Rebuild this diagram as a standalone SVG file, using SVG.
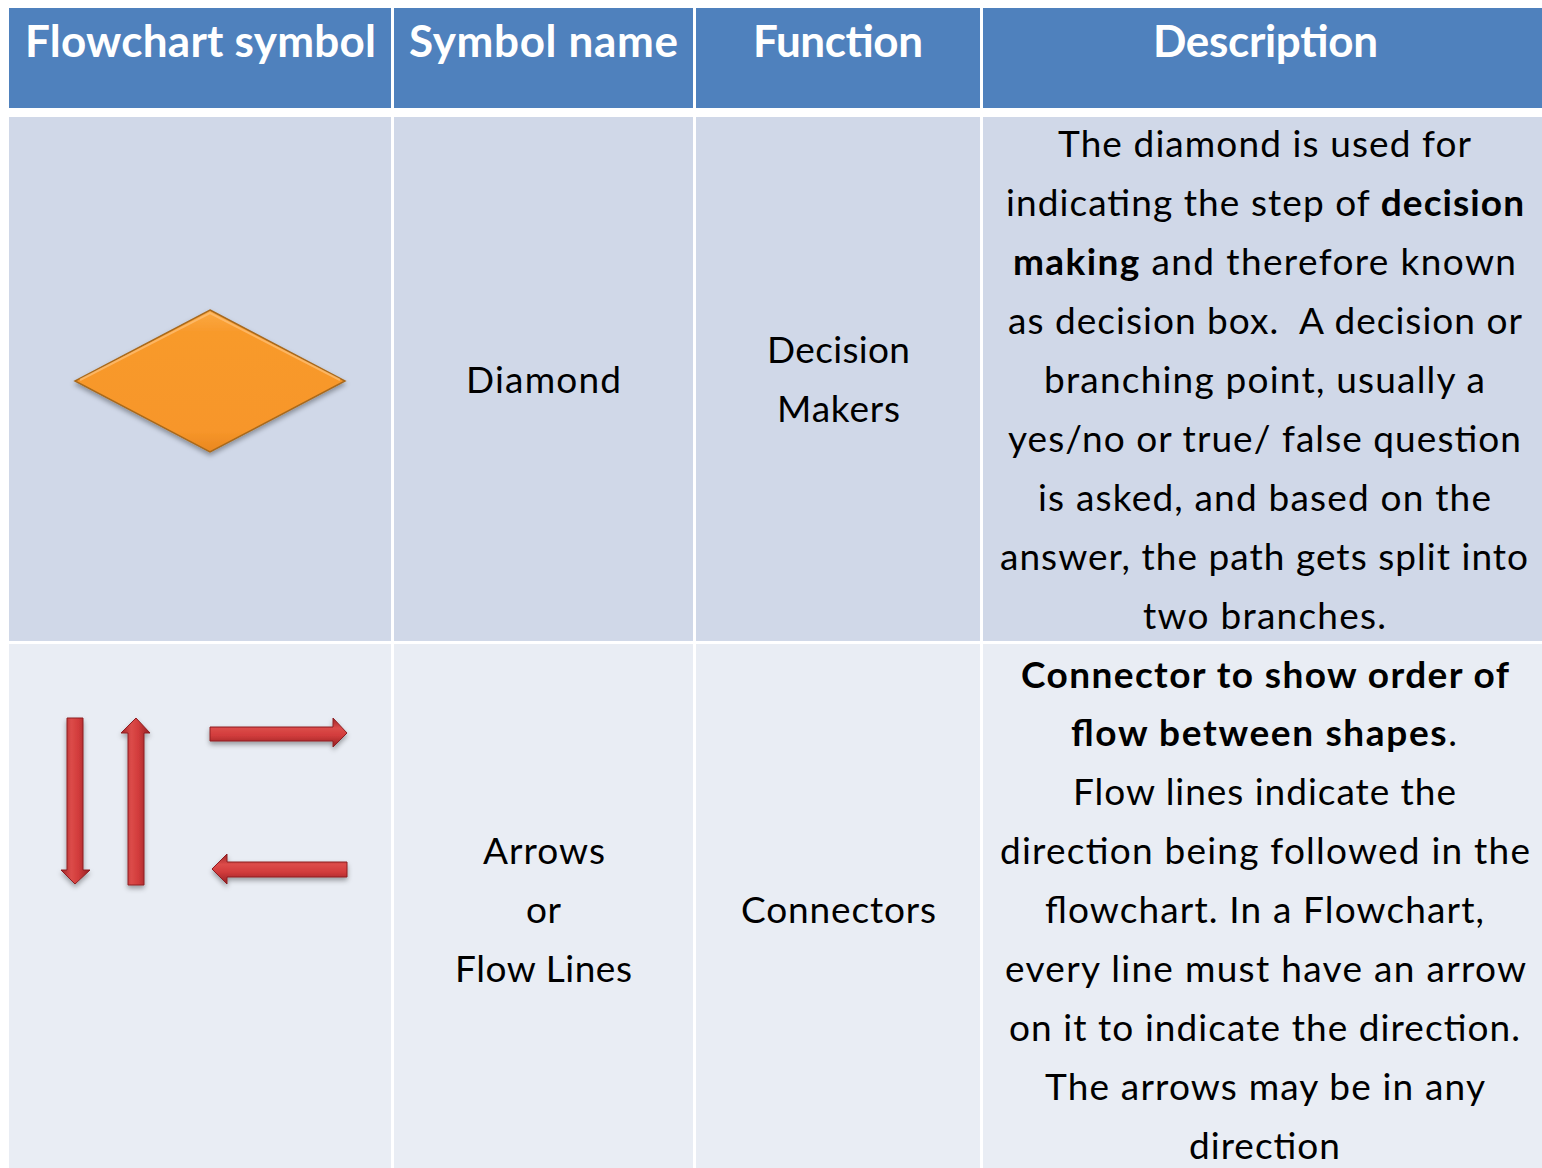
<svg xmlns="http://www.w3.org/2000/svg" width="1542" height="1168" viewBox="0 0 1542 1168">
  <style>
    .hdr { fill: #4F81BD; }
    .r1 { fill: #D0D8E8; }
    .r2 { fill: #E9EDF4; }
    .th { font-family: Lato, "Open Sans", "Liberation Sans", sans-serif; font-weight: 700; font-size: 44px; fill: #FFFFFF; }
    .td { font-family: Lato, "Open Sans", "Liberation Sans", sans-serif; font-weight: 400; font-size: 37px; fill: #000000; white-space: pre; }
    .b { font-weight: 700; }
  </style>
  <defs>
    <linearGradient id="diamondFill" x1="0" y1="0" x2="0" y2="1">
      <stop offset="0" stop-color="#FBAA45"/>
      <stop offset="0.15" stop-color="#F89A2C"/>
      <stop offset="0.85" stop-color="#F7962A"/>
      <stop offset="1" stop-color="#E9871F"/>
    </linearGradient>
    <linearGradient id="shaftV" x1="0" y1="0" x2="1" y2="0">
      <stop offset="0" stop-color="#9E2326"/>
      <stop offset="0.35" stop-color="#DC4B49"/>
      <stop offset="0.6" stop-color="#D23C3C"/>
      <stop offset="1" stop-color="#931F22"/>
    </linearGradient>
    <linearGradient id="shaftH" x1="0" y1="0" x2="0" y2="1">
      <stop offset="0" stop-color="#9E2326"/>
      <stop offset="0.35" stop-color="#DC4B49"/>
      <stop offset="0.6" stop-color="#D23C3C"/>
      <stop offset="1" stop-color="#931F22"/>
    </linearGradient>
    <filter id="softShadow" x="-20%" y="-20%" width="140%" height="150%">
      <feDropShadow dx="0" dy="3" stdDeviation="2.5" flood-color="#000000" flood-opacity="0.35"/>
    </filter>
  </defs>

  <rect x="0" y="0" width="1542" height="1168" fill="#FFFFFF"/>

  <!-- header row -->
  <g id="header">
    <rect class="hdr" x="9" y="8" width="382" height="100"/>
    <rect class="hdr" x="394" y="8" width="299" height="100"/>
    <rect class="hdr" x="696" y="8" width="284" height="100"/>
    <rect class="hdr" x="983" y="8" width="559" height="100"/>
    <text class="th" x="25" y="57" textLength="351" lengthAdjust="spacing">Flowchart symbol</text>
    <text class="th" x="409" y="57" textLength="269" lengthAdjust="spacing">Symbol name</text>
    <text class="th" x="753" y="57" textLength="170" lengthAdjust="spacing">Function</text>
    <text class="th" x="1153" y="57" textLength="225" lengthAdjust="spacing">Description</text>
  </g>

  <!-- row: diamond -->
  <g id="row-diamond">
    <rect class="r1" x="9" y="117" width="382" height="524"/>
    <rect class="r1" x="394" y="117" width="299" height="524"/>
    <rect class="r1" x="696" y="117" width="284" height="524"/>
    <rect class="r1" x="983" y="117" width="559" height="524"/>

    <g id="diamond-symbol" filter="url(#softShadow)">
      <polygon points="210,310 345,381 210,452 75,381" fill="url(#diamondFill)" stroke="#A8691C" stroke-width="1.5" stroke-linejoin="miter"/>
      <polyline points="80,380 210,313 340,380" fill="none" stroke="#FDC27A" stroke-width="2" opacity="0.7"/>
    </g>

    <text class="td" x="466" y="393" textLength="155" lengthAdjust="spacing">Diamond</text>
    <text class="td" x="767" y="363" textLength="143" lengthAdjust="spacing">Decision</text>
    <text class="td" x="777" y="422" textLength="123" lengthAdjust="spacing">Makers</text>

    <text class="td" x="1058" y="157" textLength="413" lengthAdjust="spacing">The diamond is used for</text>
    <text class="td" x="1006" y="216" textLength="518" lengthAdjust="spacing">indicating the step of <tspan class="b">decision</tspan></text>
    <text class="td" x="1013" y="275" textLength="503" lengthAdjust="spacing"><tspan class="b">making</tspan> and therefore known</text>
    <text class="td" x="1008" y="334" textLength="514" lengthAdjust="spacing">as decision box.  A decision or</text>
    <text class="td" x="1044" y="393" textLength="441" lengthAdjust="spacing">branching point, usually a</text>
    <text class="td" x="1008" y="452" textLength="513" lengthAdjust="spacing">yes/no or true/ false question</text>
    <text class="td" x="1038" y="511" textLength="453" lengthAdjust="spacing">is asked, and based on the</text>
    <text class="td" x="1000" y="570" textLength="528" lengthAdjust="spacing">answer, the path gets split into</text>
    <text class="td" x="1143" y="629" textLength="243" lengthAdjust="spacing">two branches.</text>
  </g>

  <!-- row: arrows / flow lines -->
  <g id="row-arrows">
    <rect class="r2" x="9" y="644" width="382" height="524"/>
    <rect class="r2" x="394" y="644" width="299" height="524"/>
    <rect class="r2" x="696" y="644" width="284" height="524"/>
    <rect class="r2" x="983" y="644" width="559" height="524"/>

    <g id="flow-arrows" filter="url(#softShadow)" stroke="#8E1F22" stroke-width="1" stroke-linejoin="miter">
      <!-- downward -->
      <polygon points="67,718 83,718 83,870 90,870 75,884 61,870 67,870" fill="url(#shaftV)"/>
      <!-- upward -->
      <polygon points="136,718 150,733 144,733 144,885 128,885 128,733 121,733" fill="url(#shaftV)"/>
      <!-- rightward -->
      <polygon points="210,727 333,727 333,718 347,733 333,747 333,741 210,741" fill="url(#shaftH)"/>
      <!-- leftward -->
      <polygon points="212,869 227,854 227,862 347,862 347,877 227,877 227,884" fill="url(#shaftH)"/>
    </g>

    <text class="td" x="483" y="864" textLength="122" lengthAdjust="spacing">Arrows</text>
    <text class="td" x="526" y="923" textLength="35" lengthAdjust="spacing">or</text>
    <text class="td" x="455" y="982" textLength="177" lengthAdjust="spacing">Flow Lines</text>
    <text class="td" x="741" y="923" textLength="195" lengthAdjust="spacing">Connectors</text>

    <text class="td b" x="1021" y="688" textLength="488" lengthAdjust="spacing">Connector to show order of</text>
    <text class="td" x="1071" y="746" textLength="386" lengthAdjust="spacing"><tspan class="b">flow between shapes</tspan>.</text>
    <text class="td" x="1073" y="805" textLength="383" lengthAdjust="spacing">Flow lines indicate the</text>
    <text class="td" x="1000" y="864" textLength="530" lengthAdjust="spacing">direction being followed in the</text>
    <text class="td" x="1045" y="923" textLength="439" lengthAdjust="spacing">flowchart. In a Flowchart,</text>
    <text class="td" x="1005" y="982" textLength="521" lengthAdjust="spacing">every line must have an arrow</text>
    <text class="td" x="1009" y="1041" textLength="511" lengthAdjust="spacing">on it to indicate the direction.</text>
    <text class="td" x="1045" y="1100" textLength="440" lengthAdjust="spacing">The arrows may be in any</text>
    <text class="td" x="1189" y="1159" textLength="151" lengthAdjust="spacing">direction</text>
  </g>
</svg>
